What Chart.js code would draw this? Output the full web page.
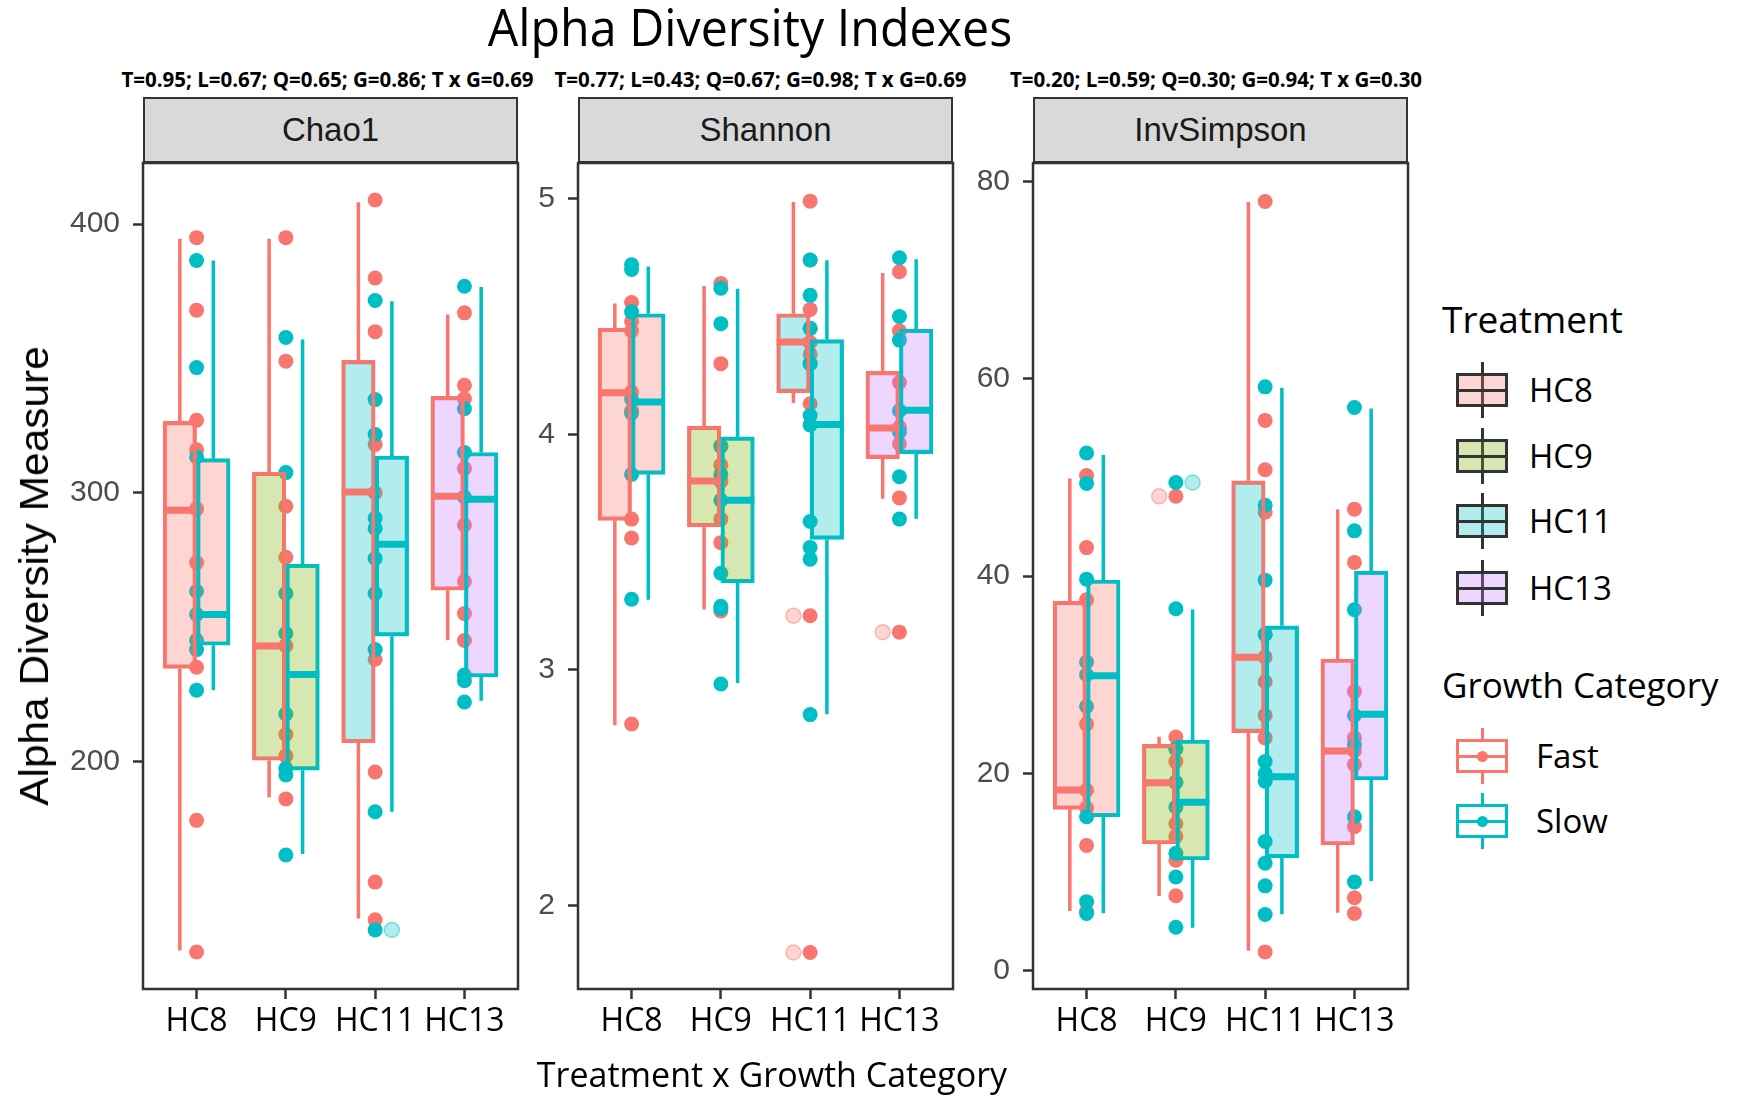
<!DOCTYPE html>
<html>
<head>
<meta charset="utf-8">
<title>Alpha Diversity Indexes</title>
<script src="https://cdn.jsdelivr.net/npm/chart.js@4.4.1/dist/chart.umd.min.js"></script>
<style>
  body { margin: 0; background: #fff; }
  #fig { position: relative; width: 1739px; height: 1097px; background: #fff; overflow: hidden; font-family: "Open Sans", sans-serif; }
  .txt { position: absolute; white-space: nowrap; line-height: 1; color: #000; }
  .strip { position: absolute; box-sizing: border-box; background: #d9d9d9; border: 2.5px solid #333;
           display: flex; align-items: center; justify-content: center;
           font-family: "Liberation Sans", Arial, sans-serif; font-size: 33px; color: #1a1a1a; }
  canvas { position: absolute; }
  .key { position: absolute; width: 52px; height: 56px; }
  .key .wh { position: absolute; left: 24.5px; top: 0; width: 3px; height: 56px; }
  .key .bx { position: absolute; left: 0; top: 11px; width: 52px; height: 34px; box-sizing: border-box; border: 3px solid; }
  .key .md { position: absolute; left: 0; top: 26.5px; width: 52px; height: 3px; }
  .key .dt { position: absolute; left: 20.5px; top: 22.5px; width: 11px; height: 11px; border-radius: 50%; }
</style>
</head>
<body>
<div id="fig"></div>
<script>
// categories
const treatments = ['HC8', 'HC9', 'HC11', 'HC13'];
const growthCats = ['Fast', 'Slow'];
const indexNames = ['Chao1', 'Shannon', 'InvSimpson'];
const indexStats = [
  'T=0.95; L=0.67; Q=0.65; G=0.86; T x G=0.69',
  'T=0.77; L=0.43; Q=0.67; G=0.98; T x G=0.69',
  'T=0.20; L=0.59; Q=0.30; G=0.94; T x G=0.30'
];

// tick labels
const chaoTicks = [200, 300, 400];
const shannonTicks = [2, 3, 4, 5];
const invTicks = [0, 20, 40, 60, 80];

// boxes: [lower whisker, Q1, median, Q3, upper whisker] per treatment
const chaoFastBox = [[129.5, 234.6, 293.5, 326.6, 394.6], [186.6, 200.4, 242.9, 307.7, 394.6], [141.5, 206.9, 300.3, 349.3, 408.2], [245.1, 263.7, 298.7, 335.9, 366.4]];
const chaoSlowBox = [[226.5, 243.2, 254.7, 312.7, 386.5], [165.5, 196.7, 232.3, 273.4, 357.1], [181.2, 246.6, 280.8, 313.7, 371.3], [222.5, 231.4, 297.6, 315.0, 376.6]];
const shanFastBox = [[2.765, 3.635, 4.177, 4.451, 4.555], [3.256, 3.607, 3.802, 4.035, 4.630], [4.133, 4.177, 4.392, 4.512, 4.986], [3.727, 3.897, 4.027, 4.267, 4.685]];
const shanSlowBox = [[3.298, 3.830, 4.137, 4.512, 4.713], [2.944, 3.369, 3.720, 3.989, 4.618], [2.812, 3.554, 4.042, 4.402, 4.739], [3.642, 3.918, 4.102, 4.446, 4.743]];
const invFastBox = [[6.05, 16.36, 18.32, 37.48, 49.91], [7.57, 12.84, 19.06, 22.95, 23.72], [2.03, 24.13, 31.77, 49.67, 77.95], [5.88, 12.74, 22.27, 31.60, 46.77]];
const invSlowBox = [[5.82, 15.61, 29.90, 39.61, 52.28], [4.36, 11.22, 17.07, 23.39, 36.63], [5.72, 11.45, 19.67, 34.97, 59.10], [9.09, 19.33, 25.99, 40.52, 57.01]];

// samples per treatment
const chaoFastPts = [[395, 368, 327, 316, 294, 274, 235, 178, 129], [395, 349, 295, 276, 243, 210, 202, 186], [409, 380, 360, 318, 300, 238, 196, 155, 141], [367, 340, 335, 309, 288, 267, 255, 245]];
const chaoSlowPts = [[386.5, 346.6, 313.3, 263.3, 254.7, 245.1, 241.6, 226.5], [357.8, 307.5, 262.5, 247.6, 217.6, 197.4, 194.9, 165.1], [371.6, 334.7, 321.7, 290.6, 286.7, 275.5, 262.5, 241.6, 181.2, 137.2], [376.9, 331.3, 315, 298.4, 232.1, 230, 222.1]];
const shanFastPts = [[4.56, 4.48, 4.44, 4.18, 4.10, 3.64, 3.56, 2.77], [4.64, 4.30, 3.95, 3.87, 3.80, 3.64, 3.54, 3.25], [4.99, 4.74, 4.53, 4.45, 4.39, 4.34, 4.30, 4.13, 3.23, 1.80], [4.69, 4.44, 4.22, 4.03, 3.96, 3.73, 3.16]];
const shanSlowPts = [[4.72, 4.70, 4.52, 4.15, 4.09, 3.83, 3.30], [4.62, 4.47, 3.95, 3.83, 3.72, 3.41, 3.27, 3.26, 2.94], [4.74, 4.59, 4.45, 4.30, 4.08, 4.04, 3.63, 3.52, 3.47, 2.81], [4.75, 4.50, 4.40, 4.10, 4.01, 3.82, 3.64]];
const invFastPts = [[50.2, 42.9, 37.6, 25.0, 18.3, 16.5, 12.7, 6.0], [48.1, 23.7, 22.5, 21.2, 19.1, 14.9, 13.6, 11.2, 7.6], [78.0, 55.8, 50.8, 46.5, 34.1, 31.8, 29.3, 25.9, 23.6, 1.9], [46.8, 41.4, 28.3, 23.6, 22.3, 20.9, 14.6, 7.4, 5.8]];
const invSlowPts = [[52.5, 49.4, 39.7, 31.3, 30.0, 26.8, 15.6, 7.0, 5.8], [49.5, 36.7, 22.5, 19.1, 16.6, 11.9, 9.5, 4.4], [59.2, 47.2, 39.6, 34.1, 21.2, 20.0, 19.2, 13.1, 10.9, 8.6, 5.7], [57.1, 44.6, 36.6, 25.9, 22.9, 15.6, 9.0]];

// boxplot outliers
const chaoFastOut = [[], [], [], []];
const chaoSlowOut = [[], [], [137.2], []];
const shanFastOut = [[], [], [3.23, 1.80], [3.16]];
const shanSlowOut = [[], [], [], []];
const invFastOut = [[], [48.1], [], []];
const invSlowOut = [[], [49.5], [], []];

// colours
const growthColors = ['#F8766D', '#00BFC4'];
const growthFaded = ['rgba(248,118,109,0.3)', 'rgba(0,191,196,0.3)'];
const growthRing = ['rgba(248,118,109,0.45)', 'rgba(0,191,196,0.45)'];
const treatmentFills = ['rgba(248,118,109,0.3)', 'rgba(124,174,0,0.3)', 'rgba(0,191,196,0.3)', 'rgba(199,124,255,0.3)'];

const panels = [
  { ticks: chaoTicks, min: 115.2, max: 422.8, box: [chaoFastBox, chaoSlowBox], pts: [chaoFastPts, chaoSlowPts], out: [chaoFastOut, chaoSlowOut] },
  { ticks: shannonTicks, min: 1.645, max: 5.152, box: [shanFastBox, shanSlowBox], pts: [shanFastPts, shanSlowPts], out: [shanFastOut, shanSlowOut] },
  { ticks: invTicks, min: -1.86, max: 81.9, box: [invFastBox, invSlowBox], pts: [invFastPts, invSlowPts], out: [invFastOut, invSlowOut] }
];

// layout (px)
const panelLeft = [143, 578, 1033];
const statsCenter = [327.5, 760.5, 1216];
const PANEL_TOP = 163, PANEL_W = 375, PANEL_H = 826;
const AX_W = 110, AX_H = 80, PAD_T = 40, PAD_R = 10;
const DODGE = 0.1875; // boxes are 0.375 wide, dodged either side of the category

const fig = document.getElementById('fig');

function addText(txt, css) {
  const d = document.createElement('div');
  d.className = 'txt';
  d.textContent = txt;
  Object.assign(d.style, css);
  fig.appendChild(d);
  return d;
}

function pointData(groups, shift) {
  const d = [];
  groups.forEach((vals, ti) => vals.forEach(v => d.push({ x: ti + 1 + shift, y: v })));
  return d;
}
function whiskerData(boxes, shift) {
  const d = [];
  boxes.forEach((b, ti) => {
    const x = ti + 1 + shift;
    d.push({ x, y: b[3] }, { x, y: b[4] }, { x, y: null }, { x, y: b[1] }, { x, y: b[0] }, { x, y: null });
  });
  return d;
}
function medianData(boxes, shift) {
  const d = [];
  boxes.forEach((b, ti) => {
    const x = ti + 1 + shift;
    d.push({ x: x - DODGE, y: b[2] }, { x: x + DODGE, y: b[2] }, { x: x + DODGE, y: null });
  });
  return d;
}
function boxData(boxes, shift) {
  return boxes.map((b, ti) => ({ x: ti + 1 + shift, y: [b[1], b[3]] }));
}

// panel frame on top of everything
const frame = {
  id: 'frame',
  afterDraw(chart) {
    const { ctx, chartArea: a } = chart;
    ctx.save();
    ctx.strokeStyle = '#333';
    ctx.lineWidth = 2.5;
    ctx.strokeRect(a.left, a.top, a.right - a.left, a.bottom - a.top);
    ctx.restore();
  }
};

panels.forEach((p, pi) => {
  // facet strip and the stats line above it
  const strip = document.createElement('div');
  strip.className = 'strip';
  strip.textContent = indexNames[pi];
  Object.assign(strip.style, { left: panelLeft[pi] + 'px', top: '97px', width: PANEL_W + 'px', height: '66px' });
  fig.appendChild(strip);
  addText(indexStats[pi], { fontWeight: '700', fontSize: '20.5px', top: '69px', left: statsCenter[pi] + 'px', transform: 'translateX(-50%)' });

  const cv = document.createElement('canvas');
  cv.width = AX_W + PANEL_W + PAD_R;
  cv.height = PAD_T + PANEL_H + AX_H;
  cv.style.left = (panelLeft[pi] - AX_W) + 'px';
  cv.style.top = (PANEL_TOP - PAD_T) + 'px';
  fig.appendChild(cv);

  const datasets = [];
  growthCats.forEach((g, gi) => {
    const shift = gi === 0 ? -DODGE : DODGE;
    datasets.push({
      type: 'scatter', label: g, order: 20 - gi,
      data: pointData(p.pts[gi], 0),
      backgroundColor: growthColors[gi], borderWidth: 0, pointRadius: 7.5
    });
    datasets.push({
      type: 'scatter', label: g + ' outliers', order: 15,
      data: pointData(p.out[gi], shift),
      backgroundColor: growthFaded[gi], borderColor: growthRing[gi], borderWidth: 1.5, pointRadius: 7.5
    });
    datasets.push({
      type: 'line', label: g + ' whiskers', order: 12,
      data: whiskerData(p.box[gi], shift),
      borderColor: growthColors[gi], borderWidth: 3.5, pointRadius: 0, spanGaps: false, fill: false
    });
    datasets.push({
      type: 'bar', label: g + ' boxes', order: 10 - gi,
      data: boxData(p.box[gi], shift),
      grouped: false, barPercentage: 1, categoryPercentage: 1,
      backgroundColor: treatmentFills, borderColor: growthColors[gi], borderWidth: 3.5, borderSkipped: false
    });
    datasets.push({
      type: 'line', label: g + ' medians', order: 5 - gi,
      data: medianData(p.box[gi], shift),
      borderColor: growthColors[gi], borderWidth: 7, borderCapStyle: 'butt', pointRadius: 0, spanGaps: false, fill: false
    });
  });

  const tickGrid = { offset: false, drawOnChartArea: false, drawTicks: true, tickLength: 10, tickWidth: 2.5, tickColor: '#333' };

  new Chart(cv, {
    type: 'scatter',
    data: { datasets },
    options: {
      responsive: false, animation: false, events: [],
      layout: { padding: { top: PAD_T, right: PAD_R, left: 0, bottom: 0 } },
      plugins: { legend: { display: false }, tooltip: { enabled: false } },
      scales: {
        x: {
          type: 'linear', min: 0.4, max: 4.6, offset: false,
          afterBuildTicks: s => { s.ticks = treatments.map((t, i) => ({ value: i + 1 })); },
          afterFit: s => { s.height = AX_H; },
          ticks: { callback: (v, i) => treatments[i], autoSkip: false, maxRotation: 0,
                   font: { family: 'Open Sans', size: 32 }, color: '#000', padding: 4 },
          grid: tickGrid, border: { display: false }
        },
        y: {
          type: 'linear', min: p.min, max: p.max,
          afterBuildTicks: s => { s.ticks = p.ticks.map(v => ({ value: v })); },
          afterFit: s => { s.width = AX_W; },
          ticks: { font: { family: 'Liberation Sans', size: 30 }, color: '#4d4d4d', padding: 13 },
          grid: tickGrid, border: { display: false }
        }
      }
    },
    plugins: [frame]
  });
});

// titles
addText('Alpha Diversity Indexes', { fontSize: '52px', top: '0px', left: '750px', transform: 'translateX(-50%) scaleX(0.93)' });
addText('Treatment x Growth Category', { fontSize: '34px', top: '1057px', left: '772px', transform: 'translateX(-50%)' });
addText('Alpha Diversity Measure', { fontFamily: '"Liberation Sans", Arial, sans-serif', fontSize: '40px', color: '#000',
  left: '34px', top: '576px', transform: 'translate(-50%, -50%) rotate(-90deg) scaleX(1.06)' });

// legend
addText('Treatment', { fontSize: '37px', left: '1442px', top: '300px' });
addText('Growth Category', { fontSize: '35px', left: '1442px', top: '667px' });

function addKey(cy, stroke, fill, dot) {
  const k = document.createElement('div');
  k.className = 'key';
  k.style.left = '1456px';
  k.style.top = (cy - 28) + 'px';
  k.innerHTML = '<div class="wh"></div><div class="bx"></div><div class="md"></div>' + (dot ? '<div class="dt"></div>' : '');
  k.querySelector('.wh').style.background = stroke;
  k.querySelector('.bx').style.borderColor = stroke;
  k.querySelector('.bx').style.background = fill;
  k.querySelector('.md').style.background = stroke;
  if (dot) k.querySelector('.dt').style.background = stroke;
  fig.appendChild(k);
}
const treatKeyY = [390, 456, 521, 588];
treatments.forEach((t, i) => {
  addKey(treatKeyY[i], '#333', treatmentFills[i], false);
  addText(t, { fontSize: '33px', left: '1529px', top: (treatKeyY[i] - 17.5) + 'px' });
});
const growthKeyY = [756, 821];
growthCats.forEach((g, i) => {
  addKey(growthKeyY[i], growthColors[i], '#fff', true);
  addText(g, { fontSize: '33px', left: '1536px', top: (growthKeyY[i] - 17.5) + 'px' });
});
</script>
</body>
</html>
